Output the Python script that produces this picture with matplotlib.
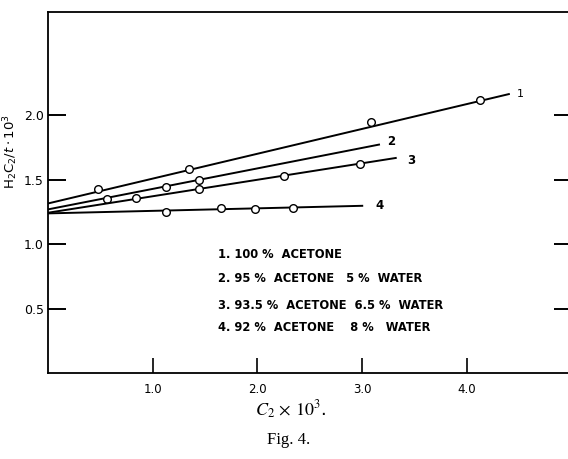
import numpy as np
import matplotlib.pyplot as plt

# measured points (C2 x 10^3, H2C2/t x 10^3)
x1 = [0.48, 1.35, 3.08, 4.13]
y1 = [1.424, 1.579, 1.943, 2.114]
x2 = [0.56, 1.125, 1.44]
y2 = [1.346, 1.44, 1.499]
x3 = [0.84, 1.44, 2.25, 2.98]
y3 = [1.354, 1.429, 1.53, 1.623]
x4 = [1.13, 1.655, 1.977, 2.335]
y4 = [1.25, 1.277, 1.271, 1.277]

# fitted straight lines: start at x=0, end where drawn
fit_y0 = [1.315, 1.269, 1.243, 1.238]
fit_xend = [4.41, 3.17, 3.33, 3.01]
fit_yend = [2.165, 1.773, 1.669, 1.297]
line_names = ["1", "2", "3", "4"]

legend_lines = [
    "1. 100 %  ACETONE",
    "2. 95 %  ACETONE   5 %  WATER",
    "3. 93.5 %  ACETONE  6.5 %  WATER",
    "4. 92 %  ACETONE    8 %   WATER",
]

xticks = [1.0, 2.0, 3.0, 4.0]
yticks = [0.5, 1.0, 1.5, 2.0]

plt.rcParams["mathtext.fontset"] = "stix"

fig = plt.figure(figsize=(5.68, 4.59), dpi=100)
ax = fig.add_axes([48 / 568, 86 / 459, 523.6 / 568, 361 / 459])

xs = [x1, x2, x3, x4]
ys = [y1, y2, y3, y4]
for i in range(4):
    ax.plot([0, fit_xend[i]], [fit_y0[i], fit_yend[i]], color="black", lw=1.4,
            solid_capstyle="butt")
    ax.plot(xs[i], ys[i], "o", mfc="white", mec="black", ms=5.5, mew=1.0)

# curve numbers at the line ends
ax.text(fit_xend[0] + 0.07, fit_yend[0], line_names[0], fontsize=8, va="center")
ax.text(fit_xend[1] + 0.07, fit_yend[1] + 0.02, line_names[1], fontsize=8.5,
        va="center", weight="bold")
ax.text(fit_xend[2] + 0.1, fit_yend[2] - 0.02, line_names[2], fontsize=8.5,
        va="center", weight="bold")
ax.text(fit_xend[3] + 0.12, fit_yend[3], line_names[3], fontsize=8.5,
        va="center", weight="bold")

# legend written inside the plot
leg_y = [0.92, 0.73, 0.52, 0.35]
for t, yy in zip(legend_lines, leg_y):
    ax.text(1.62, yy, t, fontsize=8.3, weight="bold", va="center")

ax.set_xlim(0, 5.0)
ax.set_ylim(0, 2.8)
ax.set_xticks(xticks)
ax.set_xticklabels(["1.0", "2.0", "3.0", "4.0"], fontsize=8.5)
ax.set_yticks(yticks)
ax.set_yticklabels(["0.5", "1.0", "1.5", "2.0"], fontsize=9)
ax.tick_params(axis="x", direction="in", length=11, width=1.2, pad=7)
ax.tick_params(axis="y", direction="in", length=13, width=1.4, pad=3,
               left=True, right=True)
ax.spines["right"].set_visible(False)
for s in ["left", "bottom", "top"]:
    ax.spines[s].set_linewidth(1.3)

# y label in sans lettering like the tick labels
ax.text(-0.36, 1.72, r"H$_2$C$_2$/$t\cdot$10$^3$", rotation=90, fontsize=9.5,
        ha="center", va="center", math_fontfamily="dejavusans")

fig.text(291 / 568, 1 - 410 / 459, r"$C_2\,\times\,10^3$.", fontsize=13,
         ha="center", va="center")
fig.text(289 / 568, 1 - 440 / 459, "Fig. 4.", fontsize=12, ha="center",
         va="center", family="Liberation Serif")

fig.savefig("out.png", dpi=100)
